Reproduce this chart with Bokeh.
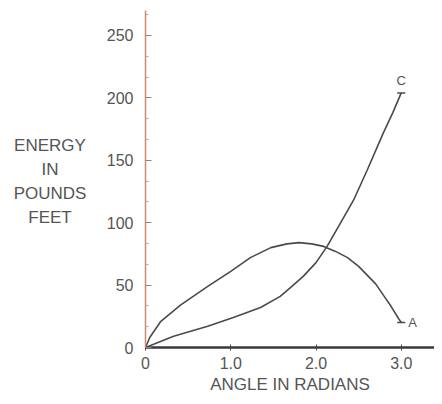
from bokeh.plotting import figure
from bokeh.models import Range1d, FixedTicker, Label, ColumnDataSource, Div
from bokeh.layouts import row
from bokeh.embed import file_html
from bokeh.resources import INLINE

# ---- data ----
angle_a = [0, 0.05, 0.18, 0.41, 0.73, 1.0, 1.23, 1.47, 1.66, 1.8, 1.95, 2.09, 2.23, 2.37, 2.5, 2.6, 2.7, 2.79, 2.88, 2.97, 3.0]
energy_a = [0, 8, 21, 34, 49, 61, 72, 80, 83, 84, 83, 81, 77, 72, 65, 58, 51, 42, 33, 23, 20]

angle_c = [0, 0.33, 0.73, 1.03, 1.35, 1.58, 1.70, 1.85, 2.0, 2.13, 2.29, 2.44, 2.6, 2.79, 2.9, 3.0]
energy_c = [0, 9, 17, 24, 32, 41, 48, 57, 68, 81, 100, 118, 142, 172, 188, 204]

y_ticks = [0, 50, 100, 150, 200, 250]
x_ticks = [0, 1, 2, 3]
x_tick_labels = {0: "0", 1: "1.0", 2: "2.0", 3: "3.0"}

y_title_lines = ["ENERGY", "IN", "POUNDS", "FEET"]
x_title = "ANGLE IN RADIANS"

FONT = "Liberation Sans"
TXT = "#555555"
DIV_W = 100

title_div = Div(
    text="<br>".join(y_title_lines),
    width=DIV_W, height=396, margin=0,
    styles={"text-align": "center", "font-family": "'Liberation Sans'", "font-size": "17px",
            "color": TXT, "line-height": "24px", "padding-top": "134px", "box-sizing": "border-box",
            "background": "white"},
)

p = figure(width=434 - DIV_W, height=396, output_backend="svg", toolbar_location=None,
           x_range=Range1d(0, 3.39), y_range=Range1d(0, 270),
           min_border_left=145 - DIV_W, min_border_right=0, min_border_top=10, min_border_bottom=48)
p.outline_line_color = None
p.xgrid.visible = False
p.ygrid.visible = False
p.background_fill_color = "white"
p.border_fill_color = "white"

# y axis
ya = p.yaxis[0]
ya.ticker = FixedTicker(ticks=y_ticks, minor_ticks=[v + k * 50 / 3 for v in y_ticks for k in (1, 2)])
ya.axis_line_color = "#cf8a70"
ya.axis_line_width = 1.5
ya.major_tick_in = 6
ya.major_tick_out = 0
ya.minor_tick_in = 3
ya.minor_tick_out = 0
ya.major_tick_line_color = "#888888"
ya.minor_tick_line_color = "#aaaaaa"
ya.major_label_standoff = 12
ya.major_label_text_font = FONT
ya.major_label_text_font_size = "16px"
ya.major_label_text_color = TXT

# x axis
xa = p.xaxis[0]
xa.ticker = FixedTicker(ticks=x_ticks, minor_ticks=[])
xa.major_label_overrides = x_tick_labels
xa.axis_line_color = "#3a3a3a"
xa.axis_line_width = 2.5
xa.major_tick_in = 3
xa.major_tick_out = 3
xa.major_tick_line_color = "#444444"
xa.major_label_standoff = 6
xa.major_label_text_font = FONT
xa.major_label_text_font_size = "16px"
xa.major_label_text_color = TXT
xa.axis_label = x_title
xa.axis_label_standoff = 3
xa.axis_label_text_font = FONT
xa.axis_label_text_font_size = "17px"
xa.axis_label_text_font_style = "normal"
xa.axis_label_text_color = TXT

src_a = ColumnDataSource(dict(x=angle_a, y=energy_a))
src_c = ColumnDataSource(dict(x=angle_c, y=energy_c))
p.line("x", "y", source=src_a, line_color="#4a4a4a", line_width=1.6)
p.line("x", "y", source=src_c, line_color="#4a4a4a", line_width=1.6)

# end markers
p.scatter(x=[angle_a[-1], angle_c[-1]], y=[energy_a[-1], energy_c[-1]], marker="dash",
          size=8, line_color="#4a4a4a", line_width=1.5)

p.add_layout(Label(x=angle_a[-1], y=energy_a[-1], text="A", x_offset=7, text_baseline="middle",
                   text_font=FONT, text_font_size="13px", text_color=TXT))
p.add_layout(Label(x=angle_c[-1], y=energy_c[-1], text="C", y_offset=5, text_align="center",
                   text_baseline="bottom", text_font=FONT, text_font_size="13px", text_color=TXT))

layout = row(title_div, p, spacing=0)
open("out.html", "w").write(file_html(layout, INLINE))
